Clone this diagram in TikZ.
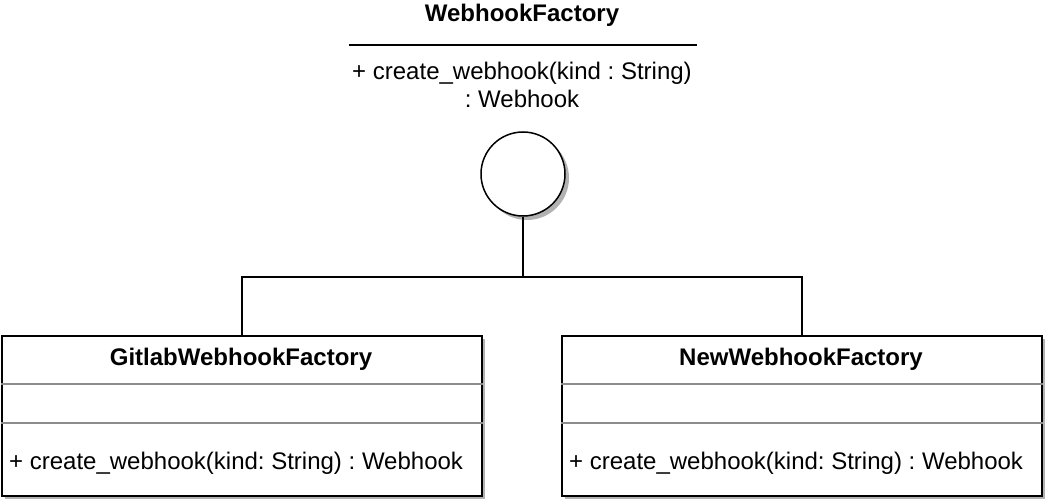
\documentclass[tikz,border=0pt]{standalone}
\usepackage{fontspec}
\setmainfont{Liberation Sans}
\frenchspacing
\begin{document}
\begin{tikzpicture}[x=1pt,y=-1pt,
  txt/.style={font=\fontsize{24}{28}\selectfont, inner sep=0pt},
  btxt/.style={font=\fontsize{24}{28}\selectfont\bfseries, inner sep=0pt},
  classbox/.style={draw=black, line width=2pt, fill=white, minimum width=480pt, minimum height=160pt, inner sep=0pt, anchor=north west},
  shadowbox/.style={fill=black!30, minimum width=480pt, minimum height=160pt, inner sep=0pt, anchor=north west},
  sep/.style={draw=black!45, line width=1.5pt},
  conn/.style={draw=black, line width=1.5pt}]
\useasboundingbox (0,0) rectangle (1046,502);
% top interface
\node[btxt] (ftitle) at (522,15.5) {WebhookFactory};
\coordinate (la) at (349,45);
\coordinate (lb) at (697,45);
\draw[black, line width=1.5pt] (la) -- (lb);
\node[txt, align=center] (fmeth) at (522,85) {+ create\_webhook(kind : String)\\: Webhook};
\fill[black!30] (527,178) circle (42);
\node[circle, draw=black, line width=1.5pt, fill=white, minimum size=84pt, inner sep=0pt] (lolli) at (523,174) {};
% boxes
\node[shadowbox] at (5,339) {};
\node[shadowbox] at (565,339) {};
\node[classbox] (gl) at (1,335) {};
\node[classbox] (nw) at (561,335) {};
\node[btxt] (gltitle) at (241,359.5) {GitlabWebhookFactory};
\node[btxt] (nwtitle) at (801,359.5) {NewWebhookFactory};
\draw[sep] ([yshift=-49pt]gl.north west) -- ([yshift=-49pt]gl.north east);
\draw[sep] ([yshift=-88pt]gl.north west) -- ([yshift=-88pt]gl.north east);
\draw[sep] ([yshift=-49pt]nw.north west) -- ([yshift=-49pt]nw.north east);
\draw[sep] ([yshift=-88pt]nw.north west) -- ([yshift=-88pt]nw.north east);
\node[txt, anchor=west] (glm) at (9,463) {+ create\_webhook(kind: String) : Webhook};
\node[txt, anchor=west] (nwm) at (569,463) {+ create\_webhook(kind: String) : Webhook};
% connectors
\coordinate (junc) at (523,277);
\draw[conn] (lolli.south) -- (junc);
\draw[conn] (junc) -| (gl.north);
\draw[conn] (junc) -| (nw.north);
\end{tikzpicture}
\end{document}
